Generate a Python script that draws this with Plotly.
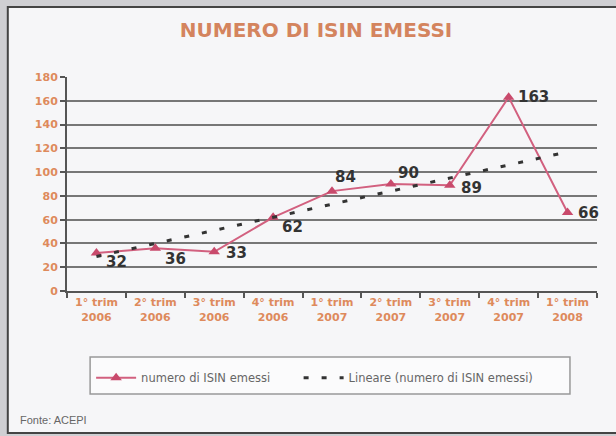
import plotly.graph_objects as go

categories = ["1° trim<br>2006", "2° trim<br>2006", "3° trim<br>2006", "4° trim<br>2006",
              "1° trim<br>2007", "2° trim<br>2007", "3° trim<br>2007", "4° trim<br>2007",
              "1° trim<br>2008"]
isin_values = [32, 36, 33, 62, 84, 90, 89, 163, 66]
label_xshift = [8, 8, 10, 7, 1, 5, 9, 7, 8]
label_yshift = [-9, -11, -1, -10, 14, 11, -3, 0, 0]
trend_categories = [categories[0], categories[-1]]
trend_values = [29, 117]
y_ticks = [0, 20, 40, 60, 80, 100, 120, 140, 160, 180]

ORANGE = "#de8a5c"
TITLE_COL = "#d4845e"
PINK = "#d2607f"

fig = go.Figure()
fig.add_trace(go.Scatter(
    x=categories, y=isin_values, mode="lines+markers",
    name="numero di ISIN emessi", legend="legend",
    line=dict(color=PINK, width=2),
    marker=dict(symbol="triangle-up", size=10, color="#c94a6c"),
))
fig.add_trace(go.Scatter(
    x=trend_categories, y=trend_values, mode="lines",
    name="Lineare (numero di ISIN emessi)", legend="legend2",
    line=dict(color="#333333", width=3, dash="5px,13px"),
))

annotations = []
for c, v, dx, dy in zip(categories, isin_values, label_xshift, label_yshift):
    annotations.append(dict(x=c, y=v, xref="x", yref="y", text=f"<b>{v}</b>", showarrow=False,
                            xanchor="left", yanchor="middle", xshift=dx, yshift=dy,
                            font=dict(family="DejaVu Sans", size=15, color="#333333")))
annotations.append(dict(text="Fonte: ACEPI", xref="paper", yref="paper", x=-0.093, y=-0.603,
                        xanchor="left", yanchor="middle", showarrow=False,
                        font=dict(family="Liberation Sans", size=11, color="#666666")))

legend_style = dict(orientation="h", xanchor="left", y=-0.405, yanchor="middle",
                    bgcolor="rgba(0,0,0,0)", borderwidth=0,
                    font=dict(family="DejaVu Sans", size=11.5, color="#666666"), itemwidth=40)

fig.update_layout(
    width=616, height=436,
    margin=dict(l=67, r=19, t=77, b=145),
    paper_bgcolor="#cfcfd3", plot_bgcolor="#f6f6f8",
    title=dict(text="<b>NUMERO DI ISIN EMESSI</b>", x=0.513, xanchor="center", y=0.932, yanchor="middle",
               font=dict(family="DejaVu Sans", size=20, color=TITLE_COL)),
    showlegend=True,
    legend=dict(x=0.0455, **legend_style),
    legend2=dict(x=0.437, **legend_style),
    shapes=[
        dict(type="rect", xref="paper", yref="paper", layer="below",
             x0=-0.1117, x1=1.2, y0=-0.664, y1=1.327,
             fillcolor="#f6f6f8", line=dict(color="#444444", width=2)),
        dict(type="rect", xref="paper", yref="paper", layer="below",
             x0=0.0436, x1=0.949, y0=-0.481, y1=-0.308,
             fillcolor="#fbfbfc", line=dict(color="#999999", width=1.5)),
    ],
    annotations=annotations,
)
fig.update_xaxes(type="category", range=[-0.5, 8.5], tickson="boundaries",
                 ticks="outside", ticklen=5, tickcolor="#555555", tickwidth=2,
                 showline=True, linecolor="#555555", linewidth=2, showgrid=False,
                 tickfont=dict(family="DejaVu Sans", size=11, color=ORANGE, weight="bold"))
fig.update_yaxes(range=[0, 180], tickvals=y_ticks, ticks="outside", ticklen=5,
                 tickcolor="#555555", tickwidth=2,
                 showline=True, linecolor="#555555", linewidth=2,
                 showgrid=True, gridcolor="#777777", gridwidth=1.5, zeroline=False,
                 tickfont=dict(family="DejaVu Sans", size=11, color=ORANGE, weight="bold"))

fig.write_html("out.html", config={"displayModeBar": False},
               post_script="document.body.style.margin='0';")
